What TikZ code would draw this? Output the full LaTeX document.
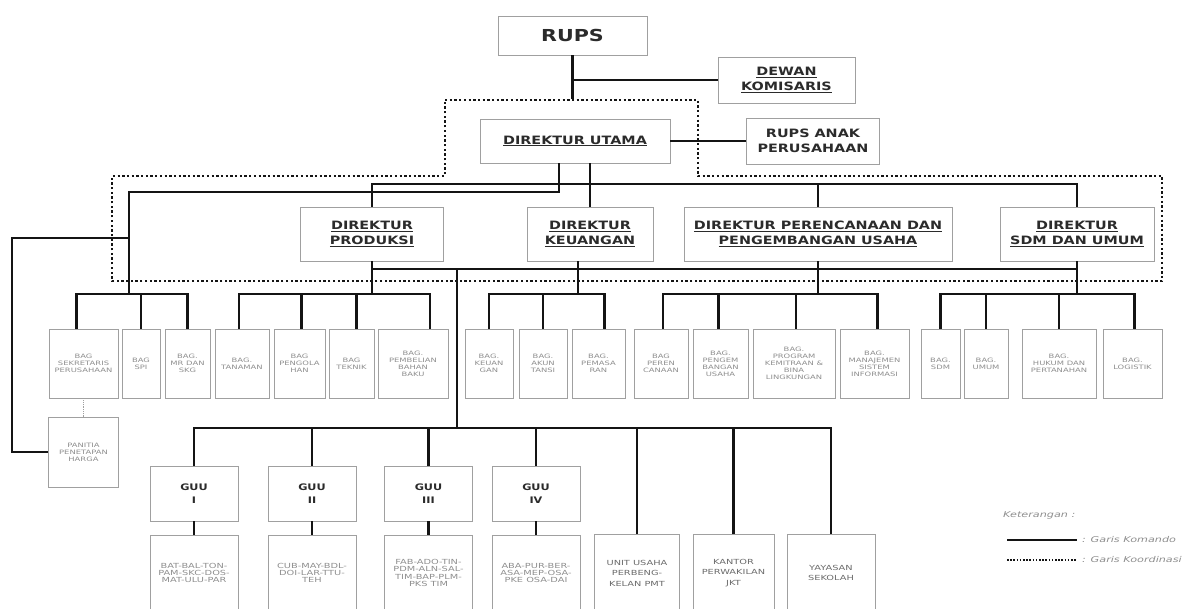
\documentclass[tikz,border=0pt]{standalone}
\usepackage{fontspec}
\setmainfont{DejaVu Sans}
\newfontfamily\headfont{DejaVu Sans}[FakeStretch=1.25]
\newfontfamily\smallfont{DejaVu Sans}[FakeStretch=1.4]
\usetikzlibrary{positioning}
\definecolor{orgline}{HTML}{141414}
\definecolor{orgframe}{HTML}{A0A0A0}
\definecolor{orgtext}{HTML}{2B2B2B}
\definecolor{bagtext}{HTML}{8E8E8E}
\definecolor{unittext}{HTML}{6A6A6A}
\newcommand\hdul[1]{\underline{#1}}

\begin{document}
\begin{tikzpicture}[x=1pt,y=-1pt,
    box/.style={draw=orgframe,line width=0.8pt,inner sep=0pt,align=center,text=orgtext},
    head/.style={box,font=\headfont\bfseries\fontsize{11.5}{15.5}\selectfont},
    bag/.style={box,text=bagtext,minimum height=69,font=\smallfont\fontsize{6}{7}\selectfont},
    guu/.style={box,minimum width=88,minimum height=55,font=\headfont\bfseries\fontsize{9}{12.5}\selectfont},
    kebun/.style={box,text=bagtext,minimum width=88,minimum height=76,font=\smallfont\fontsize{7}{7.2}\selectfont},
    unitbox/.style={box,text=unittext,minimum height=78,font=\smallfont\fontsize{7}{10.5}\selectfont},
    cmd/.style={draw=orgline,line width=2.8pt},
    koord/.style={draw=orgline,line width=2.3pt,dash pattern=on 2.3pt off 2.4pt},
    legendtxt/.style={anchor=west,inner sep=0pt,text=bagtext,font=\smallfont\itshape\fontsize{8}{9}\selectfont}
  ]
  \path[use as bounding box] (0,0) rectangle (1190,609);
  \clip (0,0) rectangle (1190,609);

  \node[box,minimum width=149,minimum height=39,font=\headfont\bfseries\fontsize{16.5}{18}\selectfont] (rups) at (572.5,35.5) {RUPS};
  \node[head,minimum width=137,minimum height=46] (dewan) at (786.5,80) {\hdul{DEWAN}\\\hdul{KOMISARIS}};
  \node[head,minimum width=190,minimum height=44] (dirut) at (575,141) {\hdul{DIREKTUR UTAMA}};
  \node[head,minimum width=133,minimum height=46] (rupsanak) at (813,141) {RUPS ANAK\\PERUSAHAAN};

  \node[head,minimum width=143,minimum height=54] (dprod) at (372,234) {\hdul{DIREKTUR}\\\hdul{PRODUKSI}};
  \node[head,minimum width=126,minimum height=54] (dkeu) at (590,234) {\hdul{DIREKTUR}\\\hdul{KEUANGAN}};
  \node[head,minimum width=268,minimum height=54] (drenc) at (818,234) {\hdul{DIREKTUR PERENCANAAN DAN}\\\hdul{PENGEMBANGAN USAHA}};
  \node[head,minimum width=154,minimum height=54] (dsdm) at (1077,234) {\hdul{DIREKTUR}\\\hdul{SDM DAN UMUM}};

  \foreach \n/\x/\w/\t in {
      bsek/83.5/69/{BAG\\SEKRETARIS\\PERUSAHAAN},
      bspi/141/38/{BAG\\SPI},
      bmr/187.5/45/{BAG.\\MR DAN\\SKG},
      btan/242/54/{BAG.\\TANAMAN},
      bolah/299.5/51/{BAG\\PENGOLA\\HAN},
      btek/351.5/45/{BAG\\TEKNIK},
      bbeli/413/70/{BAG.\\PEMBELIAN\\BAHAN\\BAKU},
      bkeu/489/48/{BAG.\\KEUAN\\GAN},
      bakun/543/48/{BAG.\\AKUN\\TANSI},
      bpasar/598.5/53/{BAG.\\PEMASA\\RAN},
      bren/661/54/{BAG\\PEREN\\CANAAN},
      bbang/720.5/55/{BAG.\\PENGEM\\BANGAN\\USAHA},
      bpkbl/794/82/{BAG.\\PROGRAM\\KEMITRAAN \&\\BINA\\LINGKUNGAN},
      bsim/874.5/69/{BAG.\\MANAJEMEN\\SISTEM\\INFORMASI},
      bsdm/940.5/39/{BAG.\\SDM},
      bumum/986/44/{BAG.\\UMUM},
      bhukum/1059/74/{BAG.\\HUKUM DAN\\PERTANAHAN},
      blog/1132.5/59/{BAG.\\LOGISTIK}}
    \node[bag,minimum width=\w] (\n) at (\x,363.5) {\t};

  \node[bag,minimum width=70,minimum height=70] (panitia) at (83.5,452) {PANITIA\\PENETAPAN\\HARGA};

  \foreach \i/\x/\r in {1/194/I,2/312/II,3/428.5/III,4/536/IV}
    \node[guu] (guu\i) at (\x,493.5) {GUU\\\r};
  \foreach \i/\x/\t in {
      1/194/{BAT-BAL-TON-\\PAM-SKC-DOS-\\MAT-ULU-PAR},
      2/312/{CUB-MAY-BDL-\\DOI-LAR-TTU-\\TEH},
      3/428.5/{FAB-ADO-TIN-\\PDM-ALN-SAL-\\TIM-BAP-PLM-\\PKS TIM},
      4/536/{ABA-PUR-BER-\\ASA-MEP-OSA-\\PKE OSA-DAI}}
    \node[kebun] (kbn\i) at (\x,573) {\t};

  \node[unitbox,minimum width=85] (unit) at (637,573) {UNIT USAHA\\PERBENG-\\KELAN PMT};
  \node[unitbox,minimum width=81] (kantor) at (733.5,573) {KANTOR\\PERWAKILAN\\JKT};
  \node[unitbox,minimum width=88] (yayasan) at (831,573) {YAYASAN\\SEKOLAH};

  \draw[koord] (445,100) -- (698,100) -- (698,176) -- (1162,176) -- (1162,281)
    -- (112,281) -- (112,176) -- (445,176) -- cycle;

  \coordinate (rupsend) at (572.5,99);
  \coordinate (dirbar) at (0,184);
  \coordinate (lowbar) at (0,269);
  \coordinate (bagbar) at (0,294);
  \coordinate (leftbend) at (129,192);
  \coordinate (jsek) at (129,294);
  \coordinate (pjoin) at (129,238);
  \coordinate (pcorner) at (12,238);
  \coordinate (trunk) at (457,269);
  \coordinate (jguu) at (457,428);
  \coordinate (jprod) at (dprod.south |- bagbar);
  \coordinate (jkeu) at (578,294);
  \coordinate (jren) at (drenc.south |- bagbar);
  \coordinate (jsdm) at (dsdm.south |- bagbar);

  \draw[cmd] (rups.south) -- (rupsend);
  \draw[cmd] (rups.south |- dewan.west) -- (dewan.west);
  \draw[cmd] (dirut.east) -- (rupsanak.west);
  \draw[cmd] ([xshift=15]dirut.south) -- (dkeu.north);
  \draw[cmd] (dprod.north) |- (dsdm.north |- dirbar) -- (dsdm.north);
  \draw[cmd] (drenc.north) -- (drenc.north |- dirbar);
  \draw[cmd] ([xshift=-16]dirut.south) |- (leftbend) -- (jsek);
  \draw[cmd] (pjoin) -- (pcorner) |- (panitia.west);

  \draw[cmd] (dprod.south) -- (jprod);
  \draw[cmd] ([xshift=-12]dkeu.south) -- (jkeu);
  \draw[cmd] (drenc.south) -- (jren);
  \draw[cmd] (dsdm.south) -- (jsdm);
  \draw[cmd] (dprod.south |- lowbar) -- (dsdm.south |- lowbar);

  \foreach \j/\kids in {jsek/{bsek/-7,bspi/0,bmr/0},
      jprod/{btan/-3,bolah/2,btek/5,bbeli/17},
      jkeu/{bkeu/0,bakun/0,bpasar/6},
      jren/{bren/2,bbang/-2,bpkbl/2,bsim/3},
      jsdm/{bsdm/0,bumum/0,bhukum/0,blog/2}}
    \foreach \k/\dx in \kids
      \draw[cmd] (\j) -| ([xshift=\dx]\k.north);

  \draw[orgframe,line width=0.8pt,densely dotted] (bsek) -- (panitia);

  \draw[cmd] (trunk) -- (jguu);
  \foreach \n in {guu1,guu2,guu3,guu4,unit,kantor,yayasan}
    \draw[cmd] (jguu) -| (\n.north);
  \foreach \i in {1,...,4}
    \draw[cmd] (guu\i) -- (kbn\i);

  \node[legendtxt] (ket) at (1003,515) {Keterangan :};
  \coordinate (kma) at (1007,540);
  \coordinate (kmb) at (1077,540);
  \draw[cmd,line width=2pt] (kma) -- (kmb);
  \node[legendtxt] (kom) at (1082,540) {: Garis Komando};
  \coordinate (kra) at (1007,560);
  \coordinate (krb) at (1077,560);
  \draw[koord,line width=1.5pt,dash pattern=on 1.5pt off 1.7pt] (kra) -- (krb);
  \node[legendtxt] (kor) at (1082,560) {: Garis Koordinasi};
\end{tikzpicture}
\end{document}
